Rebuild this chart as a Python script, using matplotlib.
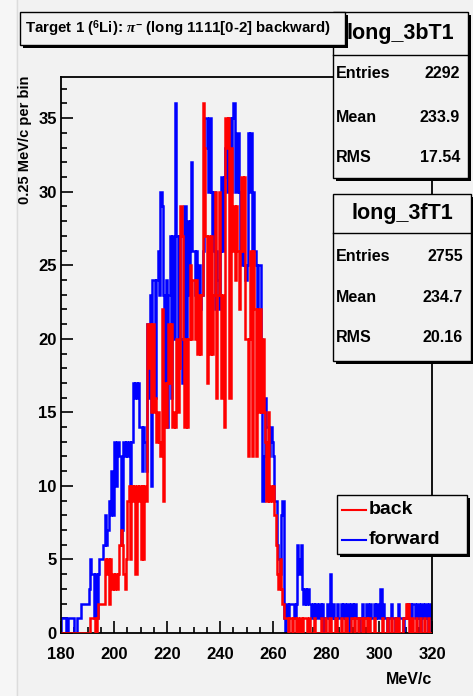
import matplotlib as mpl
import matplotlib.pyplot as plt
import numpy as np
from matplotlib.patches import Rectangle
from matplotlib.ticker import MultipleLocator

# counts per 0.5 MeV/c step, 180 -> 320 MeV/c
bin_lo, bin_hi, bin_w = 180.0, 320.0, 0.5

forward = [
    1, 1, 1, 1, 0, 1, 1, 1, 1, 1,
    0, 0, 1, 1, 1, 2, 2, 2, 2, 2,
    2, 3, 5, 4, 4, 1, 4, 1, 4, 5,
    5, 5, 6, 8, 6, 7, 9, 8, 11, 8,
    13, 10, 13, 13, 12, 6, 7, 13, 12, 13,
    12, 13, 9, 13, 17, 16, 17, 16, 17, 14,
    14, 11, 14, 13, 11, 21, 16, 23, 10, 24,
    24, 16, 24, 26, 23, 30, 29, 23, 15, 24,
    14, 23, 27, 16, 27, 20, 36, 27, 20, 27,
    20, 17, 20, 29, 20, 28, 23, 28, 32, 26,
    26, 23, 26, 23, 25, 22, 23, 26, 35, 35,
    33, 30, 35, 30, 26, 30, 22, 26, 24, 22,
    26, 31, 26, 31, 33, 30, 33, 35, 30, 35,
    36, 30, 30, 34, 30, 26, 25, 27, 25, 24,
    25, 34, 30, 34, 26, 30, 26, 25, 22, 25,
    25, 20, 9, 12, 16, 14, 14, 12, 14, 13,
    12, 9, 9, 6, 5, 4, 8, 9, 1, 0,
    2, 1, 2, 2, 2, 2, 1, 2, 6, 4,
    5, 6, 3, 2, 3, 2, 3, 2, 2, 1,
    2, 1, 2, 1, 1, 2, 1, 2, 0, 1,
    1, 2, 1, 4, 1, 2, 1, 1, 2, 1,
    1, 2, 1, 2, 1, 1, 2, 0, 1, 2,
    1, 2, 2, 1, 1, 0, 1, 2, 1, 1,
    2, 2, 1, 2, 1, 1, 2, 1, 2, 1,
    1, 3, 1, 2, 1, 1, 0, 1, 1, 2,
    1, 1, 0, 1, 2, 1, 1, 1, 0, 1,
    1, 2, 1, 2, 1, 2, 2, 1, 1, 2,
    1, 0, 2, 1, 1, 2, 1, 0, 2, 1,
]

back = [
    0, 0, 0, 0, 0, 0, 0, 0, 0, 0,
    0, 0, 0, 0, 0, 0, 0, 0, 0, 0,
    0, 0, 1, 1, 1, 1, 0, 1, 2, 2,
    2, 2, 2, 5, 4, 5, 2, 5, 3, 4,
    3, 4, 3, 4, 6, 7, 6, 4, 3, 5,
    9, 10, 5, 10, 9, 10, 4, 10, 9, 10,
    5, 10, 5, 10, 9, 21, 18, 21, 15, 21,
    15, 16, 13, 15, 13, 12, 22, 9, 17, 14,
    17, 21, 17, 21, 14, 15, 14, 20, 15, 18,
    29, 27, 20, 14, 20, 14, 20, 25, 20, 24,
    24, 20, 24, 19, 23, 19, 23, 36, 33, 27,
    17, 27, 19, 27, 19, 23, 30, 16, 23, 30,
    23, 16, 23, 14, 35, 33, 35, 16, 33, 26,
    29, 24, 29, 26, 22, 26, 31, 26, 31, 20,
    20, 12, 20, 26, 12, 26, 22, 12, 22, 15,
    22, 15, 20, 15, 13, 9, 15, 9, 10, 9,
    10, 8, 6, 4, 3, 5, 3, 2, 1, 1,
    1, 0, 1, 1, 0, 1, 1, 0, 1, 0,
    1, 1, 0, 1, 1, 1, 0, 1, 0, 0,
    0, 1, 0, 0, 0, 0, 1, 0, 0, 1,
    0, 0, 1, 1, 0, 0, 0, 1, 0, 0,
    0, 1, 0, 0, 1, 1, 0, 0, 0, 1,
    1, 0, 1, 1, 0, 1, 1, 0, 0, 1,
    1, 0, 1, 0, 0, 0, 1, 0, 0, 0,
    0, 0, 1, 0, 0, 0, 1, 0, 0, 1,
    0, 0, 1, 0, 1, 0, 0, 0, 1, 1,
    2, 1, 2, 0, 1, 1, 0, 0, 1, 0,
    0, 1, 0, 0, 1, 0, 0, 1, 0, 0,
]

title = r'Target 1 ($^{6}$Li): $\pi^{-}$ (long 1111[0-2] backward)'
stats = {
    'long_3bT1': [('Entries', '2292'), ('Mean', '233.9'), ('RMS', '17.54')],
    'long_3fT1': [('Entries', '2755'), ('Mean', '234.7'), ('RMS', '20.16')],
}
legend_labels = ['back', 'forward']
colors = ['#ff0000', '#0000ff']

W, H = 473, 696
BG = '#f2f2f2'

plt.rcParams['font.family'] = ['Liberation Sans', 'DejaVu Sans']
plt.rcParams['font.weight'] = 'bold'
plt.rcParams['mathtext.fontset'] = 'custom'
plt.rcParams['mathtext.rm'] = 'Liberation Sans:bold'
plt.rcParams['mathtext.it'] = 'Liberation Serif:italic'


def fx(x):
    return x / W


def fy(y):
    return 1 - y / H


def box(fig, left, top, right, bottom, shadow=3, z=5):
    fig.add_artist(Rectangle((fx(left + shadow), fy(bottom + shadow)),
                             fx(right - left), (bottom - top) / H,
                             transform=fig.transFigure, facecolor='black',
                             edgecolor='none', zorder=z))
    fig.add_artist(Rectangle((fx(left), fy(bottom)), fx(right - left),
                             (bottom - top) / H, transform=fig.transFigure,
                             facecolor=BG, edgecolor='black', lw=1, zorder=z + 0.5))


def stat_box(fig, name, rows, left, top, right, bottom, ys, sep, head_y):
    box(fig, left, top, right, bottom)
    fig.add_artist(plt.Line2D([fx(left), fx(right)], [fy(sep), fy(sep)],
                              transform=fig.transFigure, color='black', lw=1, zorder=6))
    fig.text(fx((left + right) / 2), fy(head_y), name, ha='center', va='center',
             fontsize=15.5, zorder=7)
    for (lab, val), y in zip(rows, ys):
        fig.text(fx(left + 3), fy(y), lab, ha='left', va='center', fontsize=11.5, zorder=7)
        fig.text(fx(right - 8), fy(y), val, ha='right', va='center', fontsize=11.5, zorder=7)


fig = plt.figure(figsize=(W / 100, H / 100), dpi=100, facecolor=BG)
fig.add_artist(Rectangle((0, 0), fx(16), 1, transform=fig.transFigure,
                         facecolor='#f6f6f6', edgecolor='none', zorder=0))
fig.add_artist(plt.Line2D([fx(16.5), fx(16.5)], [0, 1], transform=fig.transFigure,
                          color='#dcdcdc', lw=1, zorder=0))

ax = fig.add_axes([fx(61), fy(633), fx(432 - 61), (633 - 77) / H])
ax.set_facecolor(BG)

edges = np.arange(bin_lo, bin_hi + bin_w / 2, bin_w)
ax.stairs(forward, edges, color=colors[1], lw=1.8, baseline=0, zorder=2)
ax.stairs(back, edges, color=colors[0], lw=1.8, baseline=0, zorder=3)

ax.set_xlim(bin_lo, bin_hi)
ax.set_ylim(0, 37.8)
ax.xaxis.set_major_locator(MultipleLocator(20))
ax.xaxis.set_minor_locator(MultipleLocator(5))
ax.yaxis.set_major_locator(MultipleLocator(5))
ax.yaxis.set_minor_locator(MultipleLocator(1))
ax.tick_params(which='both', direction='in', top=False, right=False, width=1.2)
ax.tick_params(which='major', length=8.5, labelsize=12)
ax.tick_params(axis='x', which='major', pad=10)
ax.tick_params(axis='y', which='major', pad=3)
ax.tick_params(which='minor', length=4.3)
for s in ax.spines.values():
    s.set_linewidth(1.3)

fig.text(fx(25), fy(76), '0.25 MeV/c per bin', rotation=90, ha='center', va='top',
         fontsize=10.5)
fig.text(fx(432), fy(679), 'MeV/c', ha='right', va='center', fontsize=11.5)

names = list(stats)
stat_box(fig, names[0], stats[names[0]], 333, 12, 468, 178, [74, 117, 158], 55, 33)
stat_box(fig, names[1], stats[names[1]], 333, 194, 471, 361, [257, 297, 337], 233, 213)

box(fig, 20, 12, 345, 45, z=8)
fig.text(fx(25), fy(29), title, ha='left', va='center', fontsize=10.8, zorder=9)

box(fig, 337, 495, 467, 554)
for lab, col, y in zip(legend_labels, colors, [510, 540]):
    fig.add_artist(plt.Line2D([fx(342), fx(366)], [fy(y), fy(y)], transform=fig.transFigure,
                              color=col, lw=1.5, zorder=7))
    fig.text(fx(369), fy(y), lab, ha='left', va='center', fontsize=14, zorder=7)

fig.savefig('out.png', dpi=100, facecolor=BG)
